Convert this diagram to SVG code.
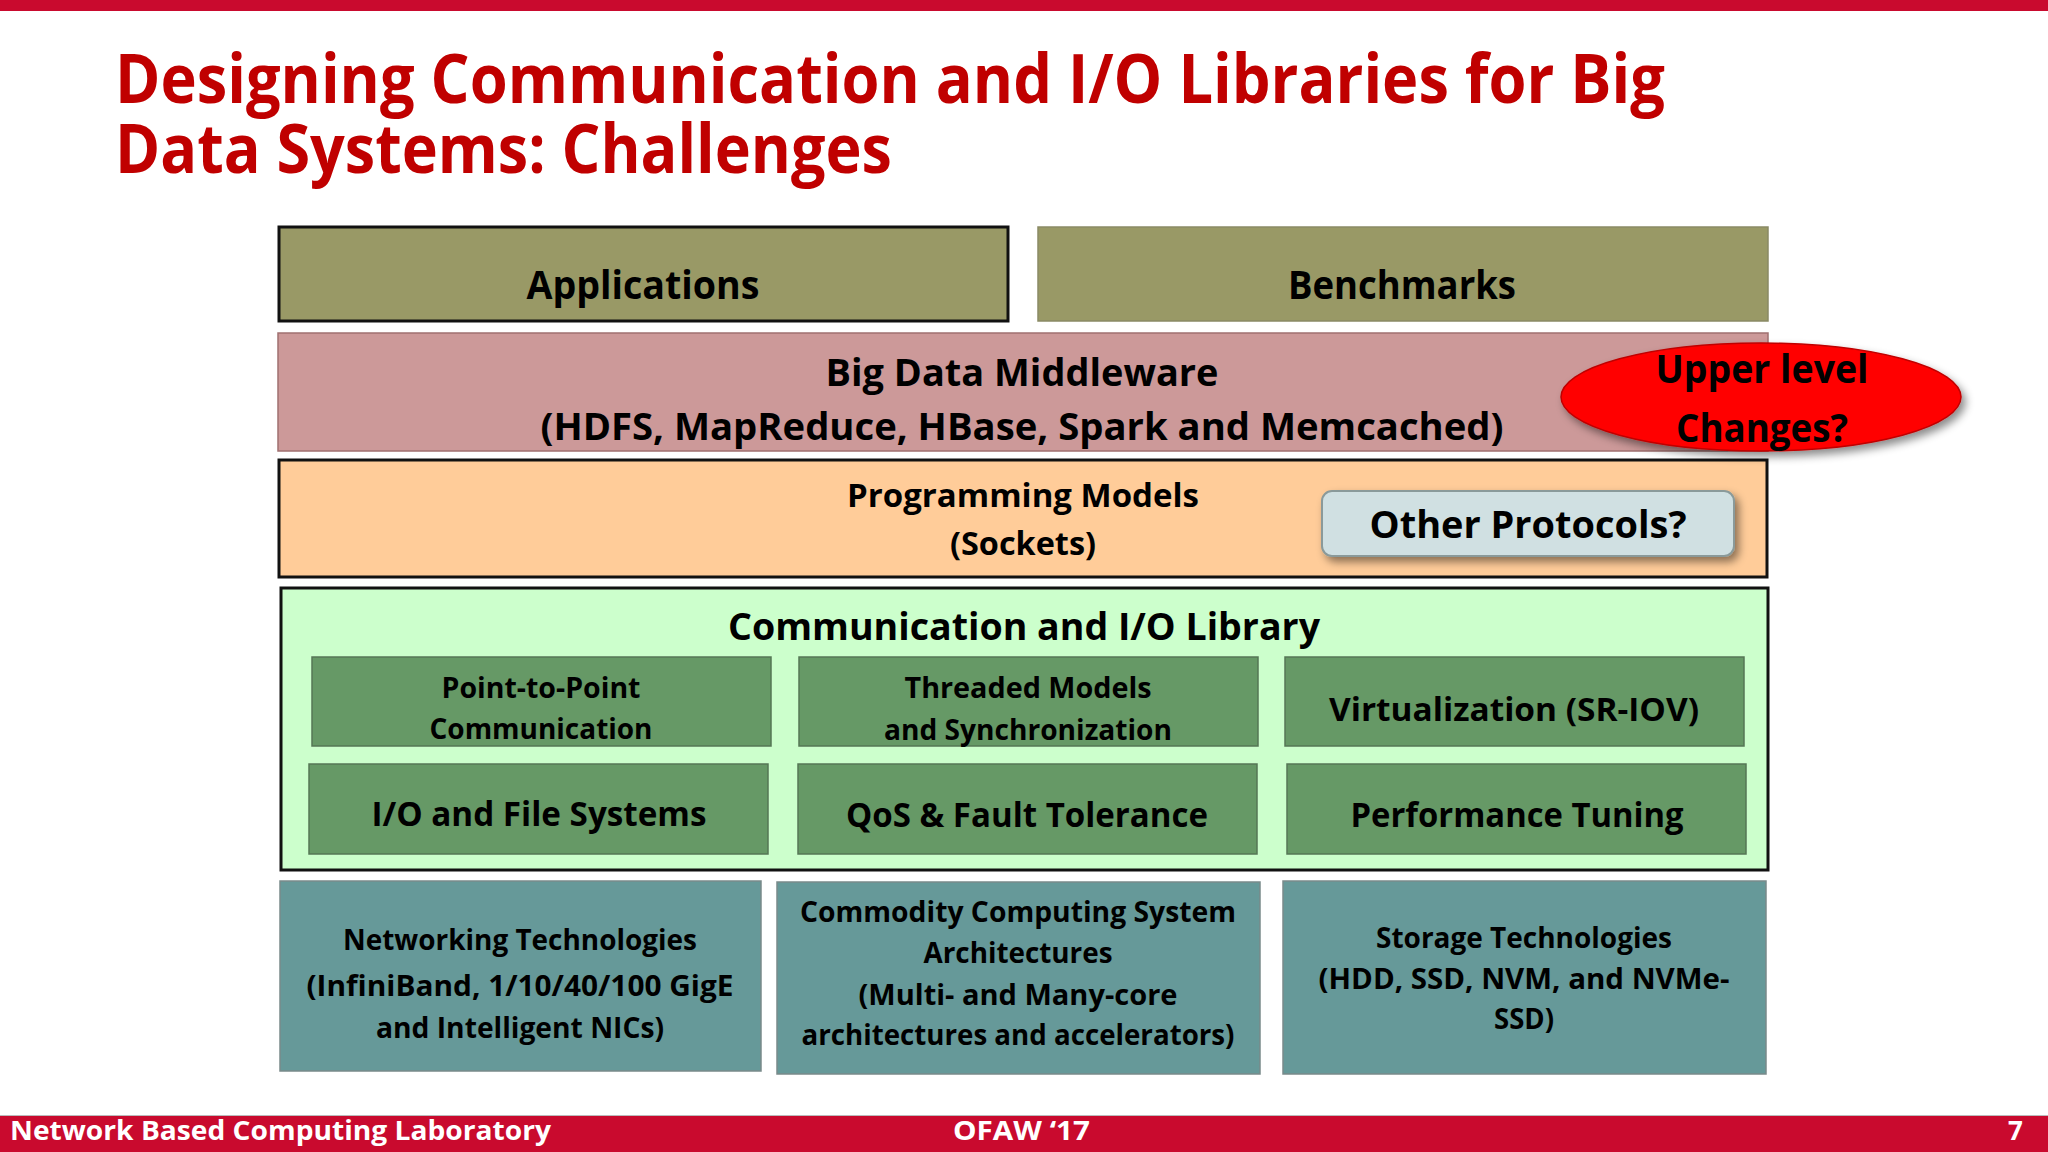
<svg xmlns="http://www.w3.org/2000/svg" width="2048" height="1152" viewBox="0 0 2048 1152">
<defs>
<style>
text{font-family:"Open Sans","Noto Sans","DejaVu Sans",sans-serif;font-weight:bold;fill:#000;text-anchor:middle}
.title{fill:#C00000;text-anchor:start;font-size:68px}
.foot{fill:#fff;font-size:26px;text-anchor:start}
.olive{fill:#999966}
.inner{fill:#669966;stroke:#557755;stroke-width:1.5}
.teal{fill:#669999;stroke:#7a8a8a;stroke-width:1.5}
.t40{font-size:40px}.t38{font-size:38px}.t34{font-size:34px}.t33{font-size:33px}.t28{font-size:28px}.t26{font-size:26px}
</style>
<filter id="sh" x="-10%" y="-20%" width="125%" height="150%">
<feDropShadow dx="4" dy="5" stdDeviation="4" flood-color="#000" flood-opacity="0.45"/>
</filter>
</defs>
<rect x="0" y="0" width="2048" height="1152" fill="#fff"/>
<rect x="0" y="0" width="2048" height="11" fill="#C90A2E"/>
<g id="title">
<text class="title" x="115" y="103" textLength="1550" lengthAdjust="spacingAndGlyphs">Designing Communication and I/O Libraries for Big</text>
<text class="title" x="115" y="173" textLength="777" lengthAdjust="spacingAndGlyphs">Data Systems: Challenges</text>
</g>
<g id="applications">
<rect x="279" y="227" width="729" height="94" class="olive" stroke="#111" stroke-width="3"/>
<text class="t40" x="643" y="299" textLength="233" lengthAdjust="spacingAndGlyphs">Applications</text>
</g>
<g id="benchmarks">
<rect x="1038" y="227" width="730" height="94" class="olive" stroke="#8a8a66" stroke-width="1.5"/>
<text class="t40" x="1402" y="299" textLength="228" lengthAdjust="spacingAndGlyphs">Benchmarks</text>
</g>
<g id="middleware">
<rect x="278" y="333" width="1490" height="118" fill="#CC9999" stroke="#a07070" stroke-width="1.5"/>
<text class="t38" x="1022" y="386" textLength="393" lengthAdjust="spacingAndGlyphs">Big Data Middleware</text>
<text class="t38" x="1022" y="440" textLength="963" lengthAdjust="spacingAndGlyphs">(HDFS, MapReduce, HBase, Spark and Memcached)</text>
</g>
<g id="programming-models">
<rect x="279" y="460" width="1488" height="117" fill="#FFCC99" stroke="#111" stroke-width="3"/>
<text class="t33" x="1023" y="507" textLength="352" lengthAdjust="spacingAndGlyphs">Programming Models</text>
<text class="t33" x="1023" y="555" textLength="146" lengthAdjust="spacingAndGlyphs">(Sockets)</text>
</g>
<g id="other-protocols">
<rect x="1322" y="491" width="412" height="65" rx="10" fill="#D0E0E2" stroke="#8a9a9a" stroke-width="2" filter="url(#sh)"/>
<text class="t38" x="1528" y="538" textLength="317" lengthAdjust="spacingAndGlyphs">Other Protocols?</text>
</g>
<g id="upper-level-changes">
<ellipse cx="1761" cy="397" rx="200" ry="54" fill="#FF0000" stroke="#C00000" stroke-width="1.5" filter="url(#sh)"/>
<text class="t40" x="1762" y="383" textLength="213" lengthAdjust="spacingAndGlyphs">Upper level</text>
<text class="t40" x="1762" y="442" textLength="172" lengthAdjust="spacingAndGlyphs">Changes?</text>
</g>
<g id="comm-io-library">
<rect x="281" y="588" width="1487" height="282" fill="#CCFFCC" stroke="#111" stroke-width="3"/>
<text class="t38" x="1024" y="640" textLength="592" lengthAdjust="spacingAndGlyphs">Communication and I/O Library</text>
</g>
<g id="point-to-point">
<rect x="312" y="657" width="459" height="89" class="inner"/>
<text class="t28" x="541" y="698" textLength="199" lengthAdjust="spacingAndGlyphs">Point-to-Point</text>
<text class="t28" x="541" y="739" textLength="223" lengthAdjust="spacingAndGlyphs">Communication</text>
</g>
<g id="threaded-models">
<rect x="799" y="657" width="459" height="89" class="inner"/>
<text class="t28" x="1028" y="698" textLength="247" lengthAdjust="spacingAndGlyphs">Threaded Models</text>
<text class="t28" x="1028" y="740" textLength="288" lengthAdjust="spacingAndGlyphs">and Synchronization</text>
</g>
<g id="virtualization">
<rect x="1285" y="657" width="459" height="89" class="inner"/>
<text class="t33" x="1514" y="721" textLength="370" lengthAdjust="spacingAndGlyphs">Virtualization (SR-IOV)</text>
</g>
<g id="io-file-systems">
<rect x="309" y="764" width="459" height="90" class="inner"/>
<text class="t34" x="539" y="826" textLength="335" lengthAdjust="spacingAndGlyphs">I/O and File Systems</text>
</g>
<g id="qos-fault-tolerance">
<rect x="798" y="764" width="459" height="90" class="inner"/>
<text class="t34" x="1027" y="827" textLength="362" lengthAdjust="spacingAndGlyphs">QoS &amp; Fault Tolerance</text>
</g>
<g id="performance-tuning">
<rect x="1287" y="764" width="459" height="90" class="inner"/>
<text class="t34" x="1517" y="827" textLength="333" lengthAdjust="spacingAndGlyphs">Performance Tuning</text>
</g>
<g id="networking-technologies">
<rect x="280" y="881" width="481" height="190" class="teal"/>
<text class="t28" x="520" y="950" textLength="354" lengthAdjust="spacingAndGlyphs">Networking Technologies</text>
<text class="t28" x="520" y="996" textLength="427" lengthAdjust="spacingAndGlyphs">(InfiniBand, 1/10/40/100 GigE</text>
<text class="t28" x="520" y="1038" textLength="288" lengthAdjust="spacingAndGlyphs">and Intelligent NICs)</text>
</g>
<g id="commodity-computing">
<rect x="777" y="882" width="483" height="192" class="teal"/>
<text class="t28" x="1018" y="922" textLength="436" lengthAdjust="spacingAndGlyphs">Commodity Computing System</text>
<text class="t28" x="1018" y="963" textLength="189" lengthAdjust="spacingAndGlyphs">Architectures</text>
<text class="t28" x="1018" y="1005" textLength="319" lengthAdjust="spacingAndGlyphs">(Multi- and Many-core</text>
<text class="t28" x="1018" y="1045" textLength="433" lengthAdjust="spacingAndGlyphs">architectures and accelerators)</text>
</g>
<g id="storage-technologies">
<rect x="1283" y="881" width="483" height="193" class="teal"/>
<text class="t28" x="1524" y="948" textLength="296" lengthAdjust="spacingAndGlyphs">Storage Technologies</text>
<text class="t28" x="1524" y="989" textLength="411" lengthAdjust="spacingAndGlyphs">(HDD, SSD, NVM, and NVMe-</text>
<text class="t28" x="1524" y="1029" textLength="60" lengthAdjust="spacingAndGlyphs">SSD)</text>
</g>
<g id="connectors"></g>
<g id="footer">
<rect x="0" y="1115" width="2048" height="1" fill="#bbb"/>
<rect x="0" y="1116" width="2048" height="36" fill="#C90A2E"/>
<text class="foot" x="10" y="1140" textLength="541" lengthAdjust="spacingAndGlyphs">Network Based Computing Laboratory</text>
<text class="foot" x="953" y="1140" textLength="137" lengthAdjust="spacingAndGlyphs">OFAW ‘17</text>
<text class="foot" x="2008" y="1140">7</text>
</g>
</svg>
